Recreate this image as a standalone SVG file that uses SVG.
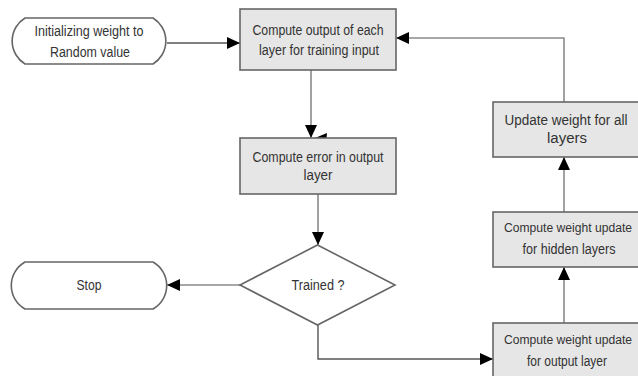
<svg xmlns="http://www.w3.org/2000/svg" width="638" height="376" viewBox="0 0 638 376">
<style>
.box{fill:#e6e6e6;stroke:#666;stroke-width:1.6}
.term{fill:#fff;stroke:#666;stroke-width:1.6}
.t{font-family:"Liberation Sans",Arial,sans-serif;font-size:14px;fill:#333;text-anchor:middle}
.s{font-size:12px}
.c{fill:none;stroke:#8a8a8a;stroke-width:1.6}
.cd{fill:none;stroke:#555;stroke-width:1.4}
</style>
<defs>
<marker id="ah" markerUnits="userSpaceOnUse" markerWidth="14" markerHeight="12" refX="13" refY="6" orient="auto">
<path d="M0,0 L13,6 L0,12 Z" fill="#000"/>
</marker>
</defs>
<rect width="638" height="376" fill="#fff"/>
<g id="connectors">
<path class="cd" d="M167,43 H240" marker-end="url(#ah)"/>
<path class="c" d="M311,70 V138" marker-end="url(#ah)"/>
<path d="M315,138 L327,133 L326,143 Z" fill="#000"/>
<path class="c" d="M318,194 V245" marker-end="url(#ah)"/>
<path class="c" d="M240,285 H167" marker-end="url(#ah)"/>
<path class="cd" d="M318,325 V359 H493" marker-end="url(#ah)"/>
<path class="c" d="M564,323 V267" marker-end="url(#ah)"/>
<path class="c" d="M564,212 V157" marker-end="url(#ah)"/>
<path class="c" d="M564,102 V38 H396" marker-end="url(#ah)"/>
</g>
<g id="init">
<path class="term" d="M25,18 H153 A27,27 0 0 1 153,64 H25 A27,27 0 0 1 25,18 Z"/>
<text class="t" x="89" y="36" textLength="109" lengthAdjust="spacingAndGlyphs">Initializing weight to</text>
<text class="t" x="90" y="57" textLength="80" lengthAdjust="spacingAndGlyphs">Random value</text>
</g>
<g id="compute-output">
<rect class="box" x="240" y="9" width="156" height="61"/>
<text class="t" x="318" y="35" textLength="131" lengthAdjust="spacingAndGlyphs">Compute output of each</text>
<text class="t" x="319" y="55" textLength="120" lengthAdjust="spacingAndGlyphs">layer for training input</text>
</g>
<g id="compute-error">
<rect class="box" x="240" y="138" width="156" height="56"/>
<text class="t" x="318" y="162" textLength="131" lengthAdjust="spacingAndGlyphs">Compute error in output</text>
<text class="t" x="318" y="180" textLength="29" lengthAdjust="spacingAndGlyphs">layer</text>
</g>
<g id="trained">
<path class="term" d="M317.5,245 L395,285 L317.5,325 L240,285 Z"/>
<text class="t" x="318" y="290" textLength="53" lengthAdjust="spacingAndGlyphs">Trained ?</text>
</g>
<g id="stop">
<path class="term" d="M25,262 H153 A27,27 0 0 1 153,309 H25 A27,27 0 0 1 25,262 Z"/>
<text class="t" x="89" y="290" textLength="25" lengthAdjust="spacingAndGlyphs">Stop</text>
</g>
<g id="update-weight">
<rect class="box" x="493" y="102" width="150" height="55"/>
<text class="t" x="566" y="125" textLength="123" lengthAdjust="spacingAndGlyphs">Update weight for all</text>
<text class="t" x="567" y="143" textLength="40" lengthAdjust="spacingAndGlyphs">layers</text>
</g>
<g id="hidden-update">
<rect class="box" x="493" y="212" width="150" height="55"/>
<text class="t s" x="568" y="232" textLength="128" lengthAdjust="spacingAndGlyphs">Compute weight update</text>
<text class="t" x="569" y="254" textLength="93" lengthAdjust="spacingAndGlyphs">for hidden layers</text>
</g>
<g id="output-update">
<rect class="box" x="493" y="323" width="150" height="60"/>
<text class="t s" x="568" y="344" textLength="128" lengthAdjust="spacingAndGlyphs">Compute weight update</text>
<text class="t" x="567" y="366" textLength="80" lengthAdjust="spacingAndGlyphs">for output layer</text>
</g>
</svg>
